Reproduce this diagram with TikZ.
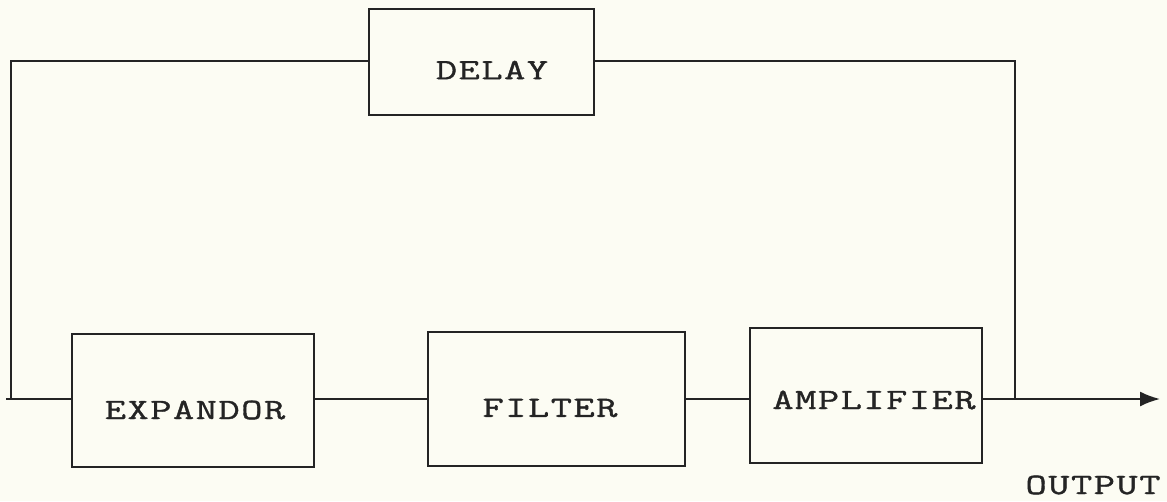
\documentclass[tikz,border=0pt]{standalone}
\usepackage{fontspec}
\usetikzlibrary{arrows.meta}
\newfontfamily\typefont{Latin Modern Mono}[FakeStretch=1.4, LetterSpace=5, FakeBold=1.3]
\definecolor{paper}{RGB}{252,252,243}
\definecolor{ink}{RGB}{36,36,36}
\tikzset{
  blockbox/.style={draw=ink, line width=2pt, rectangle, inner sep=0pt},
  blocktext/.style={text=ink, inner sep=0pt, font=\typefont\fontsize{29.5}{29.5}\selectfont},
  wire/.style={draw=ink, line width=2pt},
}
\begin{document}
\begin{tikzpicture}[x=1pt,y=-1pt]
  % page area and paper tone
  \fill[paper] (0,0) rectangle (1167,501);
  \useasboundingbox (0,0) rectangle (1167,501);

  % blocks
  \node[blockbox, minimum width=225pt, minimum height=106pt] (delay) at (481.5,62) {};
  \node[blocktext] (delayt) at (492,70) {DELAY};

  \node[blockbox, minimum width=242pt, minimum height=133pt] (exp) at (193,400.5) {};
  \node[blocktext] (expt) at (195,410) {EXPANDOR};

  \node[blockbox, minimum width=257pt, minimum height=134pt] (fil) at (556.5,399) {};
  \node[blocktext] (filt) at (550,408) {FILTER};

  \node[blockbox, minimum width=232pt, minimum height=135pt] (amp) at (866,395.5) {};
  \node[blocktext] (ampt) at (874,400) {AMPLIFIER};

  \node[blocktext] (outt) at (1093,485) {OUTPUT};

  % signal line points
  \coordinate (in) at (6,399);
  \coordinate (lcorner) at (11,61);
  \coordinate (rcorner) at (1015,61);
  \coordinate (tap) at (1015,399);
  \coordinate (out) at (1160,399);

  % forward chain
  \draw[wire] (in) -- (in -| exp.west);
  \draw[wire] (in -| exp.east) -- (in -| fil.west);
  \draw[wire] (in -| fil.east) -- (in -| amp.west);
  \draw[wire, -{Latex[length=20pt,width=15pt]}] (in -| amp.east) -- (out);

  % delay loop
  \draw[wire] (tap) -- (rcorner) -- (rcorner -| delay.east);
  \draw[wire] (lcorner -| delay.west) -- (lcorner) -- (lcorner |- in);
\end{tikzpicture}
\end{document}
